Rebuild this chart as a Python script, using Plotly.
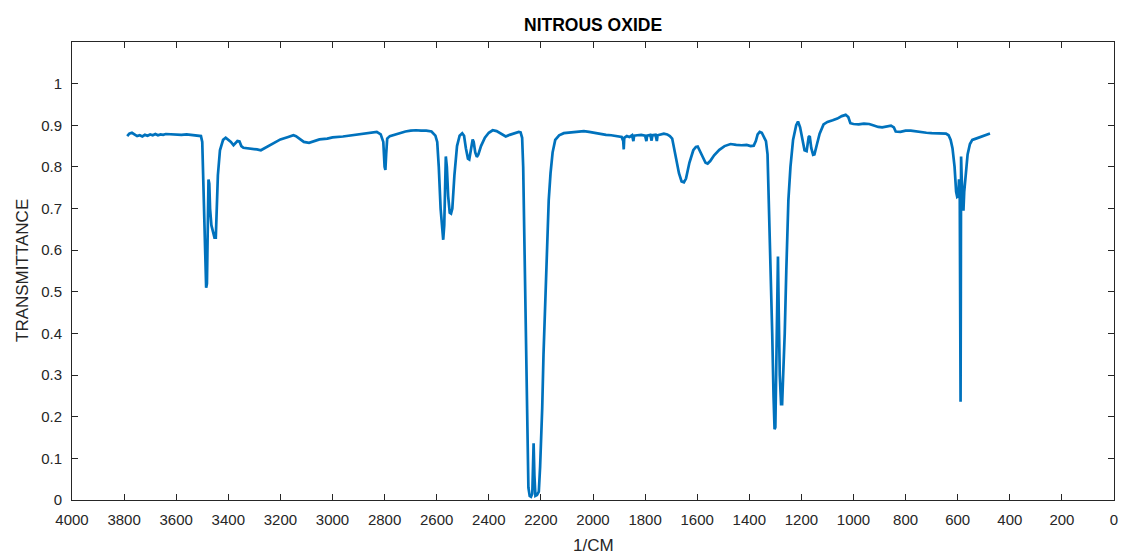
import plotly.graph_objects as go

wavenumber = [
    3788, 3780, 3770, 3760, 3750, 3740, 3730, 3720, 3710, 3700, 3690, 3680, 3670, 3660, 3650, 3640,
    3620, 3600, 3580, 3560, 3540, 3520, 3505, 3500, 3494, 3488, 3485, 3482, 3479, 3476, 3473, 3470,
    3465, 3458, 3453, 3448, 3444, 3440, 3432, 3420, 3410, 3400, 3390, 3380, 3373, 3365, 3357, 3350,
    3342, 3320, 3300, 3290, 3275, 3260, 3240, 3220, 3200, 3170, 3150, 3140, 3125, 3110, 3090, 3070,
    3050, 3020, 3000, 2960, 2920, 2880, 2850, 2830, 2815, 2805, 2800, 2797, 2794, 2790, 2780, 2760,
    2740, 2720, 2700, 2680, 2660, 2640, 2620, 2605, 2598, 2592, 2585, 2578, 2575, 2571, 2568, 2565,
    2561, 2556, 2550, 2545, 2540, 2532, 2522, 2512, 2502, 2495, 2488, 2480, 2475, 2468, 2462, 2458,
    2452, 2446, 2440, 2430, 2415, 2400, 2385, 2370, 2350, 2335, 2320, 2300, 2285, 2278, 2272, 2268,
    2263, 2258, 2253, 2248, 2243, 2238, 2233, 2230, 2228, 2225, 2221, 2215, 2208, 2203, 2199, 2195,
    2190, 2186, 2182, 2176, 2170, 2163, 2155, 2145, 2130, 2112, 2090, 2070, 2050, 2035, 2015, 2000,
    1985, 1970, 1950, 1930, 1910, 1890, 1884, 1882, 1880, 1870, 1860, 1850, 1845, 1842, 1830, 1815,
    1800, 1795, 1792, 1780, 1775, 1772, 1760, 1755, 1752, 1740, 1728, 1715, 1705, 1696, 1685, 1670,
    1660, 1651, 1643, 1630, 1615, 1605, 1598, 1590, 1578, 1568, 1560, 1550, 1535, 1515, 1495, 1472,
    1450, 1430, 1410, 1395, 1383, 1375, 1368, 1360, 1352, 1345, 1336, 1330, 1325, 1318, 1312, 1307,
    1303, 1300, 1297, 1293, 1290, 1287, 1283, 1278, 1274, 1270, 1264, 1258, 1250, 1242, 1232, 1220,
    1213, 1205, 1195, 1188, 1180, 1172, 1168, 1162, 1155, 1150, 1140, 1130, 1115, 1100, 1080, 1062,
    1045, 1030, 1020, 1012, 1000, 980, 960, 940, 925, 905, 890, 870, 856, 845, 838, 820,
    800, 780, 760, 740, 720, 700, 680, 660, 645, 635, 627, 620, 612, 606, 602, 598,
    595, 592, 590, 589, 588, 587, 585, 581, 578, 575, 570, 562, 553, 544, 530, 512,
    500, 490, 476,
]

transmittance = [
    0.874, 0.880, 0.882, 0.878, 0.874, 0.876, 0.873, 0.877, 0.875, 0.878, 0.876, 0.879, 0.876, 0.878, 0.877, 0.879,
    0.878, 0.878, 0.877, 0.878, 0.877, 0.876, 0.874, 0.860, 0.700, 0.530, 0.510, 0.520, 0.620, 0.770, 0.760, 0.700,
    0.660, 0.640, 0.630, 0.630, 0.690, 0.780, 0.840, 0.865, 0.870, 0.866, 0.860, 0.852, 0.858, 0.862, 0.861, 0.850,
    0.846, 0.845, 0.844, 0.842, 0.840, 0.845, 0.852, 0.860, 0.866, 0.872, 0.876, 0.874, 0.866, 0.860, 0.858, 0.862,
    0.866, 0.868, 0.871, 0.873, 0.876, 0.880, 0.882, 0.884, 0.878, 0.860, 0.800, 0.793, 0.830, 0.868, 0.874, 0.878,
    0.882, 0.885, 0.887, 0.888, 0.887, 0.887, 0.885, 0.875, 0.860, 0.800, 0.700, 0.630, 0.625, 0.660, 0.760, 0.825,
    0.800, 0.730, 0.690, 0.688, 0.700, 0.780, 0.850, 0.875, 0.881, 0.875, 0.845, 0.820, 0.818, 0.840, 0.866, 0.860,
    0.835, 0.824, 0.830, 0.850, 0.870, 0.882, 0.888, 0.886, 0.878, 0.873, 0.877, 0.882, 0.884, 0.883, 0.870, 0.800,
    0.600, 0.400, 0.200, 0.030, 0.010, 0.008, 0.015, 0.090, 0.136, 0.060, 0.010, 0.012, 0.020, 0.080, 0.140, 0.220,
    0.350, 0.420, 0.530, 0.640, 0.720, 0.785, 0.835, 0.865, 0.876, 0.881, 0.882, 0.884, 0.885, 0.886, 0.884, 0.882,
    0.880, 0.879, 0.877, 0.876, 0.874, 0.872, 0.862, 0.842, 0.870, 0.874, 0.872, 0.876, 0.862, 0.875, 0.876, 0.877,
    0.875, 0.862, 0.875, 0.877, 0.863, 0.876, 0.877, 0.862, 0.876, 0.878, 0.880, 0.878, 0.874, 0.868, 0.830, 0.785,
    0.765, 0.763, 0.772, 0.810, 0.840, 0.848, 0.849, 0.838, 0.820, 0.810, 0.808, 0.814, 0.828, 0.841, 0.850, 0.855,
    0.853, 0.852, 0.853, 0.850, 0.851, 0.862, 0.878, 0.884, 0.882, 0.874, 0.862, 0.830, 0.720, 0.550, 0.400, 0.250,
    0.170, 0.175, 0.300, 0.450, 0.585, 0.450, 0.300, 0.230, 0.230, 0.300, 0.400, 0.550, 0.720, 0.800, 0.865, 0.900,
    0.909, 0.895, 0.860, 0.840, 0.838, 0.872, 0.874, 0.845, 0.829, 0.830, 0.855, 0.880, 0.902, 0.908, 0.912, 0.916,
    0.922, 0.925, 0.920, 0.905, 0.903, 0.902, 0.904, 0.903, 0.900, 0.896, 0.895, 0.897, 0.899, 0.895, 0.885, 0.884,
    0.887, 0.887, 0.885, 0.883, 0.882, 0.881, 0.880, 0.880, 0.880, 0.876, 0.865, 0.845, 0.800, 0.740, 0.728, 0.730,
    0.770, 0.720, 0.300, 0.236, 0.500, 0.825, 0.780, 0.710, 0.695, 0.740, 0.780, 0.830, 0.855, 0.865, 0.868, 0.872,
    0.874, 0.877, 0.880,
]

x_ticks = list(range(0, 4001, 200))
y_ticks = [0, 0.1, 0.2, 0.3, 0.4, 0.5, 0.6, 0.7, 0.8, 0.9, 1]
y_tick_text = ["0", "0.1", "0.2", "0.3", "0.4", "0.5", "0.6", "0.7", "0.8", "0.9", "1"]

AX = "#262626"
FONT = "Liberation Sans, Arial, Helvetica, sans-serif"

W, H = 1123, 554
ML, MR, MT, MB = 72, 9, 42, 54
PW, PH = W - ML - MR, H - MT - MB

fig = go.Figure()
fig.add_trace(go.Scatter(
    x=wavenumber, y=transmittance, mode="lines",
    line=dict(color="#0072BD", width=2.7), showlegend=False, hoverinfo="skip",
))

fig.update_layout(
    width=W, height=H,
    margin=dict(l=ML, r=MR, t=MT, b=MB, autoexpand=False),
    paper_bgcolor="white", plot_bgcolor="white",
    font=dict(family=FONT, color=AX, size=15),
    xaxis=dict(
        range=[4000, 0], tickvals=x_ticks, ticks="inside", ticklen=6, tickcolor=AX,
        showline=True, linecolor=AX, linewidth=1, mirror="ticks", showgrid=False, zeroline=False,
        tickfont=dict(size=15, color=AX), ticklabelstandoff=6, automargin=False,
    ),
    yaxis=dict(
        range=[0, 1.1], tickvals=y_ticks, ticktext=y_tick_text, ticks="inside", ticklen=6, tickcolor=AX,
        showline=True, linecolor=AX, linewidth=1, mirror="ticks", showgrid=False, zeroline=False,
        tickfont=dict(size=15, color=AX), ticklabelstandoff=6, automargin=False,
    ),
    annotations=[
        dict(text="<b>NITROUS OXIDE</b>", x=0.5, y=1 + 17 / PH, xref="paper", yref="paper",
             xanchor="center", yanchor="middle", showarrow=False,
             font=dict(size=17.5, color="black", family=FONT)),
        dict(text="1/CM", x=0.5, y=-45 / PH, xref="paper", yref="paper",
             xanchor="center", yanchor="middle", showarrow=False,
             font=dict(size=17, color=AX, family=FONT)),
        dict(text="TRANSMITTANCE", x=-50 / PW, y=0.5, xref="paper", yref="paper",
             xanchor="center", yanchor="middle", showarrow=False, textangle=-90,
             font=dict(size=17, color=AX, family=FONT)),
    ],
)

fig.write_html(
    "out.html",
    config={"displayModeBar": False, "staticPlot": True},
    post_script="document.body.style.margin='0';document.body.style.overflow='hidden';",
)
